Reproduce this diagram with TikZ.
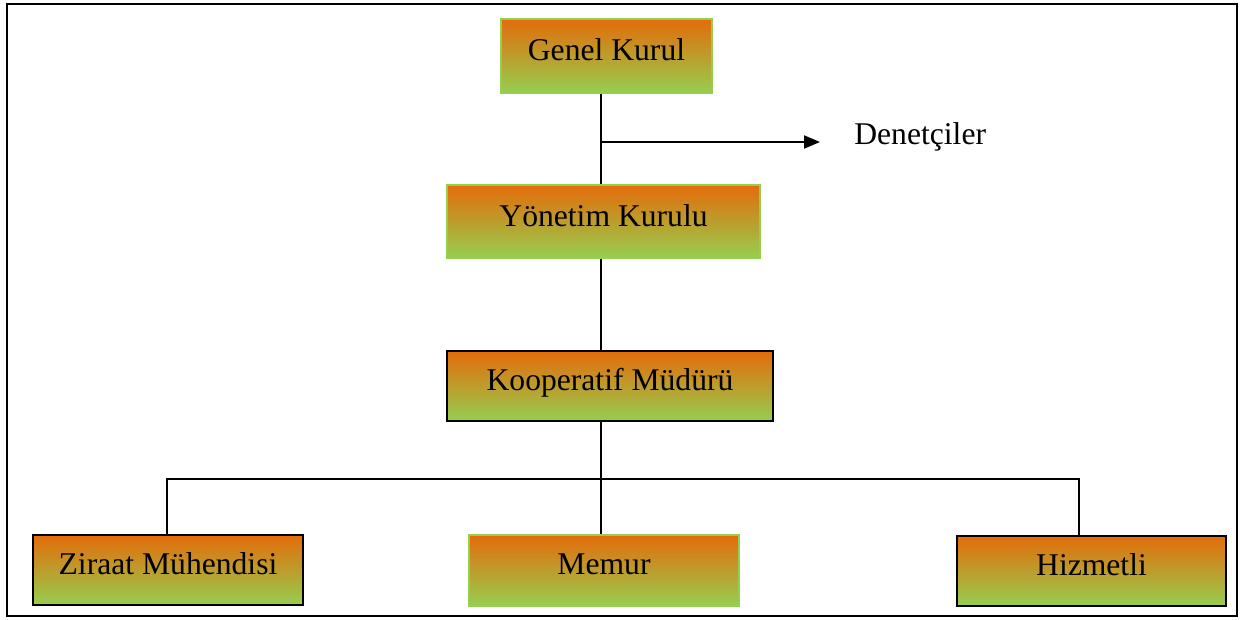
\documentclass[tikz,border=0pt]{standalone}
\usepackage{fontspec}
\setmainfont{Liberation Serif}
\usetikzlibrary{arrows.meta}
\definecolor{orgtop}{RGB}{227,108,10}
\definecolor{grnbot}{RGB}{150,206,80}
\begin{document}
\begin{tikzpicture}[x=0.02cm,y=-0.02cm,
  every node/.style={inner sep=0pt,font=\fontsize{18}{22}\selectfont},
  unit/.style={rectangle,top color=orgtop,middle color=grnbot!55!orgtop,bottom color=grnbot,minimum width=5.4cm,minimum height=1.4cm,text depth=0.25cm},
  greenline/.style={unit,draw=grnbot,line width=0.9pt},
  blackline/.style={unit,draw=black,line width=1.1pt},
  link/.style={draw=black,line width=1.1pt}]
\useasboundingbox (0,0) rectangle (1241,619);
\draw [black,line width=1.4pt] (7,4) rectangle (1237,616);
% top of the chart
\node [greenline,minimum width=4.22cm,minimum height=1.48cm] (genel) at (606.5,56) {Genel Kurul};
\node [greenline,minimum width=6.26cm,minimum height=1.46cm] (yonetim) at (603.5,221.5) {Yönetim Kurulu};
\node [blackline,minimum width=6.52cm] (mudur) at (610,386) {Kooperatif Müdürü};
\node [anchor=west] (denet) at (854,137) {Denetçiler};
% staff row
\node [blackline] (ziraat) at (168,570) {Ziraat Mühendisi};
\node [greenline,minimum height=1.42cm] (memur) at (604,570.5) {Memur};
\node [blackline,minimum width=5.38cm] (hizmet) at (1091.5,571) {Hizmetli};
% helper points
\coordinate (trunk) at (601,0);
\coordinate (branch) at (601,142);
\coordinate (tip) at (820,142);
\coordinate (busL) at (167,479);
\coordinate (busR) at (1079,479);
% connectors
\draw [link] (genel.south -| trunk) -- (yonetim.north -| trunk);
\draw [link,-{Triangle[length=0.32cm,width=0.26cm]}] (branch) -- (tip);
\draw [link] (yonetim.south -| trunk) -- (mudur.north -| trunk);
\draw [link] (mudur.south -| trunk) -- (memur.north -| trunk);
\draw [link] (ziraat.north -| busL) -- (busL) -- (busR) -- (hizmet.north -| busR);
\end{tikzpicture}
\end{document}
